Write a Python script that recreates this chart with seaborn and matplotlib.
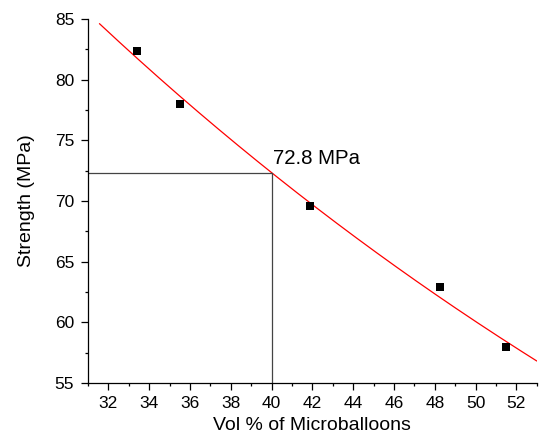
import numpy as np
import pandas as pd
import matplotlib
matplotlib.use("Agg")
import matplotlib.pyplot as plt
import seaborn as sns
from matplotlib.ticker import MultipleLocator

# Data
vol_pct = [33.4, 35.5, 41.87, 48.26, 51.48]
strength = [82.36, 77.97, 69.58, 62.93, 57.93]
fit_x_range = [31.56, 53.0]
marker_x = 40.0
annotation_text = "72.8 MPa"
x_label = "Vol % of Microballoons"
y_label = "Strength (MPa)"

sns.set_theme(style="ticks")
plt.rcParams['font.family'] = ['Liberation Sans', 'DejaVu Sans']
plt.rcParams.update({"text.color": "black", "axes.labelcolor": "black",
                     "xtick.color": "black", "ytick.color": "black"})

df = pd.DataFrame({"vol": vol_pct, "strength": strength})

# exponential decay fit (y = A*exp(-k x)) from the data
k, lnA = np.polyfit(df["vol"], np.log(df["strength"]), 1)
xs = np.linspace(fit_x_range[0], fit_x_range[1], 200)
fit_df = pd.DataFrame({"vol": xs, "strength": np.exp(lnA + k * xs)})
y_at_marker = float(np.exp(lnA + k * marker_x))

fig = plt.figure(figsize=(5.42, 4.41), dpi=100)
ax = fig.add_axes([0.1624, 0.1315, 0.828, 0.8255])

sns.lineplot(data=fit_df, x="vol", y="strength", ax=ax, color="red", linewidth=0.9)
sns.scatterplot(data=df, x="vol", y="strength", ax=ax, marker="s", color="black",
                s=30, edgecolor="black", linewidth=0, zorder=5)

ax.plot([31.0, marker_x], [y_at_marker, y_at_marker], color="#444444", linewidth=0.9)
ax.plot([marker_x, marker_x], [55, y_at_marker], color="#444444", linewidth=0.9)

ax.text(marker_x + 0.05, y_at_marker + 0.35, annotation_text, fontsize=14.7, ha="left", va="bottom")

ax.set_xlim(31.0, 53.0)
ax.set_ylim(55, 85)
ax.xaxis.set_major_locator(MultipleLocator(2))
ax.xaxis.set_minor_locator(MultipleLocator(1))
ax.yaxis.set_major_locator(MultipleLocator(5))
ax.yaxis.set_minor_locator(MultipleLocator(2.5))
ax.set_xticks([32, 34, 36, 38, 40, 42, 44, 46, 48, 50, 52])

ax.tick_params(which="major", direction="out", length=5, width=0.9, labelsize=12.5, color="black")
ax.tick_params(axis="y", which="major", pad=5)
ax.tick_params(axis="x", which="major", pad=4)
ax.tick_params(which="minor", direction="out", length=2.5, width=0.9, color="black")

for side in ["top", "right"]:
    ax.spines[side].set_visible(False)
for side in ["left", "bottom"]:
    ax.spines[side].set_color("black")
    ax.spines[side].set_linewidth(0.9)

ax.set_xlabel(x_label, fontsize=14, labelpad=5)
ax.set_ylabel(y_label, fontsize=14, labelpad=14)

fig.savefig("out.png", dpi=100)
